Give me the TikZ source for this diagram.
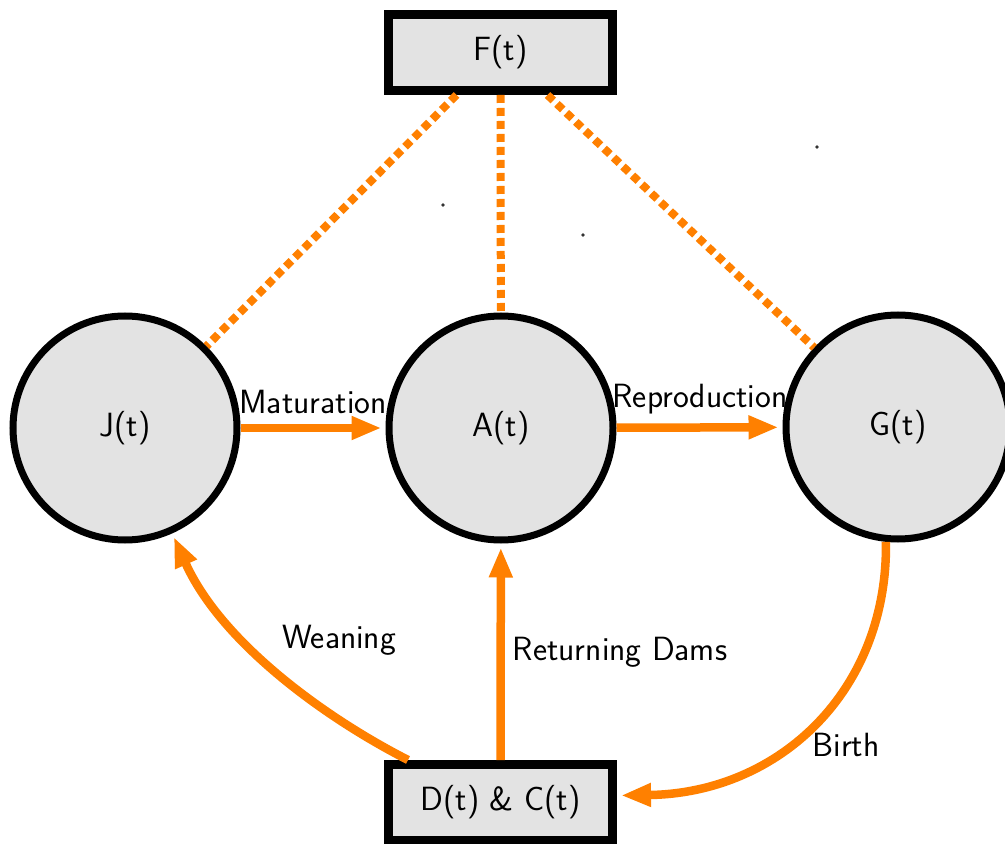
\documentclass[tikz,border=0pt]{standalone}
\usetikzlibrary{arrows.meta,calc}
\definecolor{flow}{RGB}{255,128,0}
\definecolor{boxfill}{RGB}{227,227,227}
\begin{document}
\begin{tikzpicture}[x=0.5pt,y=-0.5pt,
  font=\sffamily\fontsize{16.8}{20}\selectfont,
  state/.style={circle, draw=black, line width=3.5pt, fill=boxfill, minimum size=112pt, inner sep=0pt},
  store/.style={rectangle, draw=black, line width=4.5pt, fill=boxfill, minimum width=112pt, minimum height=38pt, inner sep=0pt},
  flowarr/.style={draw=flow, line width=4.25pt, -{Triangle[length=15pt,width=11pt]}, shorten >=2pt},
  link/.style={draw=flow, line width=4pt, dash pattern=on 4pt off 2.5pt},
  lbl/.style={anchor=base, text=black, inner sep=0pt}]
\useasboundingbox (0,0) rectangle (1005,844);

\node[store] (F) at (500.5,52.5) {F(t)};
\node[store] (D) at (500.5,802.5) {D(t) \& C(t)};
\node[state] (J) at (125,428) {J(t)};
\node[state] (A) at (501,428) {A(t)};
\node[state] (G) at (898,427) {G(t)};

% dotted links
\coordinate (F1) at ($(F.south)+(-44,0)$);
\coordinate (F3) at ($(F.south)+(47,0)$);
\draw[link] (F1) -- (J);
\draw[link] (F.south) -- (A);
\draw[link] (F3) -- (G);

% flows
\draw[flowarr] (J) -- (A);
\draw[flowarr] (A) -- (G);
\draw[flowarr] (D) -- (A);
\coordinate (Dw) at ($(D.north west)+(24,0)$);
\draw[flowarr] (Dw) .. controls (320,715) and (220,640) .. (J);
\coordinate (De) at ($(D.east)+(0,-7)$);
\draw[flowarr] (G.-96) .. controls (888,690) and (780,793) .. (De);

% labels
\node[lbl] (lm) at (313,413) {Maturation};
\node[lbl] (lr) at (700,407) {Reproduction};
\node[lbl] (lw) at (339,648) {Weaning};
\node[lbl] (ld) at (620,660) {Returning Dams};
\node[lbl] (lb) at (846,756) {Birth};

% stray dots
\fill[black!80] (443,205) circle (1.8);
\fill[black!80] (583,235) circle (1.8);
\fill[black!80] (817,147) circle (1.8);
\end{tikzpicture}
\end{document}
